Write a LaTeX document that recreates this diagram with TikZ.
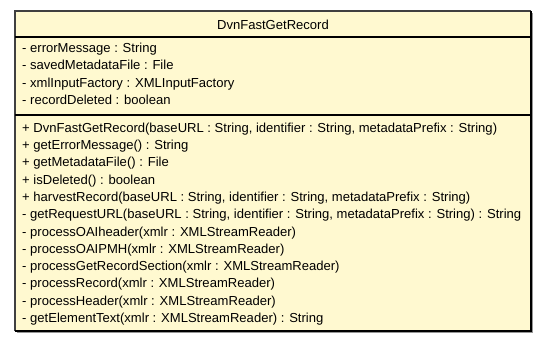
\documentclass[tikz,border=0pt]{standalone}
\usepackage{fontspec}
\setmainfont{Liberation Sans}
\begin{document}
\begin{tikzpicture}[x=1pt,y=-1pt,
  member/.style={anchor=base west,inner sep=0pt,font=\fontsize{13.05}{14}\selectfont},
  titletext/.style={anchor=base,inner sep=0pt,font=\fontsize{13.05}{14}\selectfont},
  rule/.style={draw=black,line width=1.2pt}]
\definecolor{umlfill}{RGB}{255,249,208}
\definecolor{umlshadow}{RGB}{150,150,150}
\useasboundingbox (0,0) rectangle (547,341);
% drop shadow
\draw[umlshadow,line width=1.2pt] (532,13) -- (532,332) -- (17,332);
% class body
\fill[umlfill] (15,11) rectangle (531,331);
\draw[line width=1.4pt,draw=black!75] (15,331) -- (15,11) -- (531,11);
\draw[line width=1.4pt] (531,11) -- (531,331) -- (15,331);
\draw[rule] (15,37) -- (531,37);
\draw[rule] (15,115) -- (531,115);
% name
\node[titletext] (cname) at (273,29) {DvnFastGetRecord};
% attributes
\node[member] (a1) at (22,52.5) {- errorMessage : String};
\node[member] (a2) at (22,69.8) {- savedMetadataFile : File};
\node[member] (a3) at (22,87.1) {- xmlInputFactory : XMLInputFactory};
\node[member] (a4) at (22,104.4) {- recordDeleted : boolean};
% operations
\node[member] (m1) at (22,132.2) {+ DvnFastGetRecord(baseURL : String, identifier : String, metadataPrefix : String)};
\node[member] (m2) at (22,149.5) {+ getErrorMessage() : String};
\node[member] (m3) at (22,166.8) {+ getMetadataFile() : File};
\node[member] (m4) at (22,184.1) {+ isDeleted() : boolean};
\node[member] (m5) at (22,201.4) {+ harvestRecord(baseURL : String, identifier : String, metadataPrefix : String)};
\node[member] (m6) at (22,218.7) {- getRequestURL(baseURL : String, identifier : String, metadataPrefix : String) : String};
\node[member] (m7) at (22,236.0) {- processOAIheader(xmlr : XMLStreamReader)};
\node[member] (m8) at (22,253.3) {- processOAIPMH(xmlr : XMLStreamReader)};
\node[member] (m9) at (22,270.6) {- processGetRecordSection(xmlr : XMLStreamReader)};
\node[member] (m10) at (22,287.9) {- processRecord(xmlr : XMLStreamReader)};
\node[member] (m11) at (22,305.2) {- processHeader(xmlr : XMLStreamReader)};
\node[member] (m12) at (22,322.5) {- getElementText(xmlr : XMLStreamReader) : String};
\end{tikzpicture}
\end{document}
